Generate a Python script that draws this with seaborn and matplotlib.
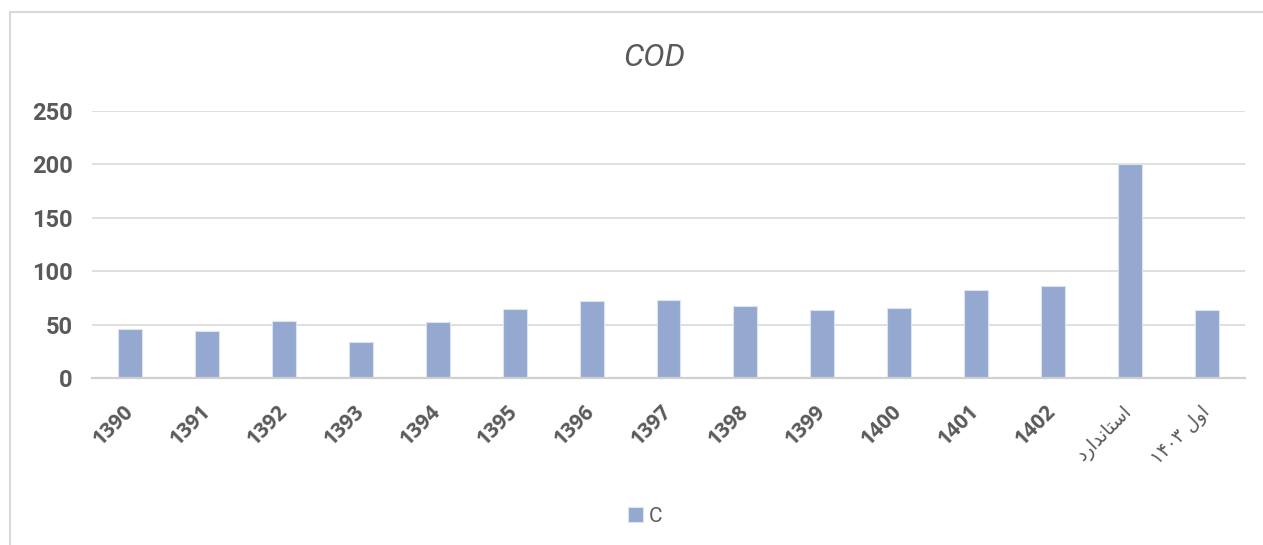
import matplotlib
matplotlib.use("Agg")
import matplotlib.pyplot as plt
import seaborn as sns
import pandas as pd
from matplotlib.lines import Line2D

# Persian labels are written in Arabic presentation forms, in visual order,
# because matplotlib does not shape or reorder right-to-left text.
categories = ["1390", "1391", "1392", "1393", "1394", "1395", "1396", "1397",
              "1398", "1399", "1400", "1401", "1402",
              "\uFEA9\uFEAD\uFE8D\uFEAA\uFEE7\uFE8E\uFE98\uFEB3\uFE8D",
              "۱۴۰۳ \uFEDD\uFEED\uFE8D"]
values = [46, 44, 53.5, 34, 52.5, 64.5, 72.5, 73.5, 67.5, 63.5, 65.5, 82.5, 86, 200, 63.5]
series_name = "C"
title_text = "COD"
y_ticks = [0, 50, 100, 150, 200, 250]

sns.set_theme(style="white")
plt.rcParams["font.family"] = ["Roboto", "DejaVu Sans"]

df = pd.DataFrame({"year": categories, "value": values, "series": series_name})

fig = plt.figure(figsize=(12.63, 5.45), dpi=100)
ax = fig.add_axes([0.0728, 0.3064, 0.9858 - 0.0728, 0.7963 - 0.3064])

sns.barplot(data=df, x="year", y="value", hue="series", order=categories,
            palette=["#95a9d0"], width=0.31, dodge=False, ax=ax,
            edgecolor="#dde4f1", linewidth=0.8, saturation=1)

ax.set_ylim(0, 250)
ax.set_xlim(-0.5, len(categories) - 0.5)
ax.set_yticks(y_ticks)
ax.set_yticklabels([str(t) for t in y_ticks], fontsize=17, fontweight="bold",
                   color="#595959", family=["Roboto", "DejaVu Sans"])
ax.yaxis.grid(True, color="#d9d9d9", linewidth=1.2)
ax.set_axisbelow(True)
for s in ["top", "right", "left"]:
    ax.spines[s].set_visible(False)
ax.spines["bottom"].set_color("#d0d0d0")
ax.spines["bottom"].set_linewidth(1.6)
ax.tick_params(axis="both", length=0, pad=14)
ax.tick_params(axis="x", pad=22)
ax.set_xticks(range(len(categories)))
ax.set_xticklabels(categories, rotation=45, ha="right", va="center",
                   rotation_mode="anchor",
                   fontsize=15, fontweight="bold", color="#595959",
                   family=["Open Sans", "DejaVu Sans"])
for lab in ax.get_xticklabels()[-2:]:
    lab.set_family(["DejaVu Sans"])
    lab.set_fontweight("normal")
    lab.set_fontsize(13.5)
ax.set_xlabel("")
ax.set_ylabel("")

fig.text(0.518, 0.895, title_text, ha="center", va="center", fontsize=23,
         style="italic", color="#595959", family=["Roboto", "DejaVu Sans"])

leg = ax.legend(loc="center", bbox_to_anchor=(0.511, 0.053), bbox_transform=fig.transFigure,
                frameon=False, fontsize=15, handlelength=0.7, handleheight=0.7,
                handletextpad=0.3)
for t in leg.get_texts():
    t.set_color("#595959")

fig.add_artist(Line2D([10 / 1263, 10 / 1263], [0, 1 - 12 / 545], transform=fig.transFigure,
                      color="#d9d9d9", linewidth=1.5))
fig.add_artist(Line2D([10 / 1263, 1], [1 - 12 / 545, 1 - 12 / 545], transform=fig.transFigure,
                      color="#d9d9d9", linewidth=1.5))

fig.savefig("out.png", dpi=100, facecolor="white")
